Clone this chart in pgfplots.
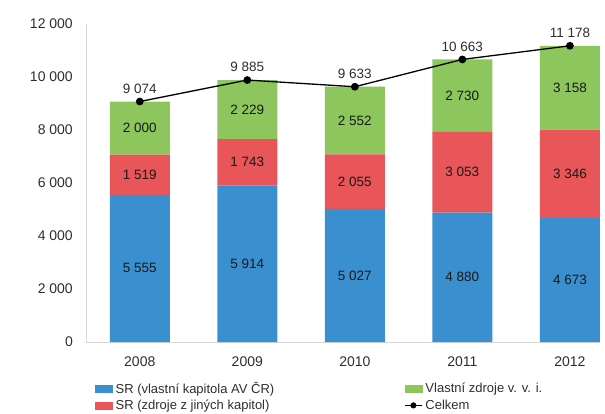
\documentclass[border=0pt]{standalone}
\usepackage{pgfplots}
\usepackage{pgfplotstable}
\pgfplotsset{compat=1.18}
\usepackage{fontspec}
\setmainfont{Liberation Sans}
\definecolor{cblue}{HTML}{3A8FCF}
\definecolor{cred}{HTML}{E8565A}
\definecolor{cgreen}{HTML}{8CC65C}
\definecolor{cgray}{HTML}{D8D8D8}
\pgfplotstableread{
x year blue red green total
0 2008 5555 1519 2000 9074
1 2009 5914 1743 2229 9885
2 2010 5027 2055 2552 9633
3 2011 4880 3053 2730 10663
4 2012 4673 3346 3158 11178
}\data
\pgfplotsset{
  common/.style={
    at={(86pt,-342pt)}, anchor=south west,
    scale only axis, width=514pt, height=318pt,
    xmin=-0.5, xmax=4.28, ymin=0, ymax=12000,
    /pgf/number format/assume math mode=true,
    /pgf/number format/1000 sep={\ },
    /pgf/number format/fixed, /pgf/number format/precision=0,
    clip=false,
  },
  seglabel/.style={only marks, mark=none, nodes near coords, point meta=explicit,
    every node near coord/.append style={font=\fontsize{13.5}{15}\selectfont, text=black!90, anchor=center}},
}
\begin{document}
\begin{tikzpicture}
\path (0,0) rectangle (605pt,-413pt);
\begin{axis}[common,
  ybar stacked, bar width=60pt,
  axis x line*=bottom, axis y line*=left,
  axis line style={cgray, line width=0.7pt},
  x axis line style={-}, y axis line style={-},
  xtick={0,1,2,3,4}, xticklabels={2008,2009,2010,2011,2012},
  ytick={0,2000,4000,6000,8000,10000,12000},
  tick style={draw=none},
  scaled y ticks=false,
  tick label style={font=\fontsize{14}{16}\selectfont, text=black!82},
  yticklabel style={anchor=east, inner sep=0pt, xshift=-13pt},
  xticklabel style={anchor=north, inner sep=0pt, yshift=-15pt},
]
\addplot[fill=cblue, draw=none] table[x=x, y=blue] {\data};
\addplot[fill=cred, draw=none] table[x=x, y=red] {\data};
\addplot[fill=cgreen, draw=none] table[x=x, y=green] {\data};
\end{axis}
\begin{axis}[common,
  axis lines=none,
  legend style={draw=none, fill=none, at={(0.0175,-0.122)}, anchor=north west,
    font=\fontsize{13}{15}\selectfont, text=black!82, inner sep=0pt,
    row sep=3pt, legend cell align=left,
    nodes={inner sep=1pt},
    /tikz/column 1/.style={column sep=2pt},
    /tikz/column 2/.style={column sep=129pt},
    /tikz/column 3/.style={column sep=2pt}},
  legend columns=2,
]
\addlegendimage{legend image code/.code={\fill[cblue] (0pt,-3.5pt) rectangle (17pt,3.5pt);}}
\addlegendentry{SR (vlastní kapitola AV ČR)}
\addlegendimage{legend image code/.code={\fill[cgreen] (0pt,-3.5pt) rectangle (17pt,3.5pt);}}
\addlegendentry{Vlastní zdroje v. v. i.}
\addlegendimage{legend image code/.code={\fill[cred] (0pt,-3.5pt) rectangle (17pt,3.5pt);}}
\addlegendentry{SR (zdroje z jiných kapitol)}
\addlegendimage{legend image code/.code={\draw[black, line width=1.2pt] (0pt,0pt) -- (17pt,0pt); \fill[black] (8.5pt,0pt) circle (2.8pt);}}
\addlegendentry{Celkem}
% segment labels
\addplot[seglabel] table[x=x, y expr=\thisrow{blue}/2, meta=blue] {\data};
\addplot[seglabel] table[x=x, y expr=\thisrow{blue}+\thisrow{red}/2, meta=red] {\data};
\addplot[seglabel] table[x=x, y expr=\thisrow{blue}+\thisrow{red}+\thisrow{green}/2, meta=green] {\data};
% total line
\addplot[black, line width=1.3pt, mark=*, mark size=3.2pt,
  nodes near coords, point meta=explicit,
  every node near coord/.append style={font=\fontsize{13.5}{15}\selectfont, text=black!82, anchor=south, yshift=4pt}]
  table[x=x, y=total, meta=total] {\data};
\end{axis}
\end{tikzpicture}
\end{document}
